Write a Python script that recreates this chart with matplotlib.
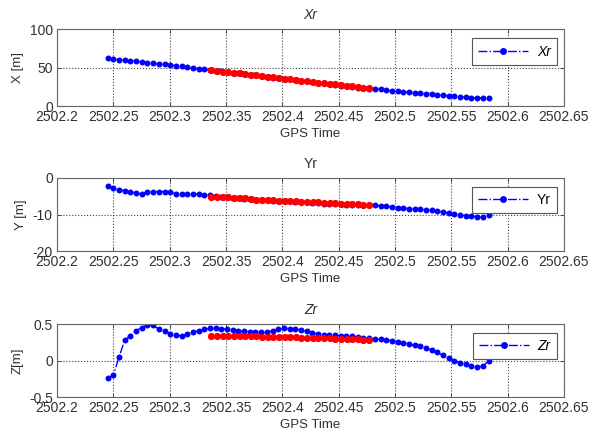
import numpy as np
import matplotlib
matplotlib.use("Agg")
import matplotlib.pyplot as plt

plt.rcParams['font.family'] = ['Liberation Sans', 'DejaVu Sans']

# GPS time span of the blue (full) and red (selected) segments
t_full = (2502.245, 2502.583)
t_sel = (2502.337, 2502.477)

x_full = [62, 61, 60, 59.5, 58.5, 58, 57, 56.5, 55.5, 54.5, 54, 53, 52.5, 51.5, 50.5, 49.5, 48.5,
          47.5, 47, 46, 45, 44, 43.5, 42.5, 41.5, 40.5, 40, 39, 38, 37, 36.5, 35.5, 34.5, 33.5,
          33, 32, 31, 30, 29.5, 28.5, 27.5, 26.5, 26, 25, 24, 23.5, 22.5, 22, 21.5, 20.5, 20,
          19.5, 18.5, 18, 17.5, 16.5, 16, 15.5, 14.5, 14, 13, 12.5, 12, 11.5, 11, 10.5, 10.5, 10]
x_sel = [46.5, 45.7, 44.8, 44.0, 43.1, 42.3, 41.5, 40.6, 39.8, 38.9, 38.1, 37.3, 36.4, 35.6, 34.7,
         33.9, 33.1, 32.2, 31.4, 30.5, 29.7, 28.9, 28.0, 27.2, 26.3, 25.5, 24.7, 23.8, 23.0]

y_full = [-2.3, -2.8, -3.2, -3.5, -3.8, -4.1, -4.4, -3.9, -3.8, -3.8, -3.7, -3.9, -4.3, -4.5, -4.4,
          -4.4, -4.5, -4.6, -4.6, -4.9, -5.1, -5.3, -5.4, -5.6, -5.7, -5.8, -5.9, -6.0, -6.1, -6.2,
          -6.3, -6.3, -6.4, -6.5, -6.6, -6.7, -6.8, -6.9, -7.0, -7.0, -7.1, -7.2, -7.3, -7.3, -7.4,
          -7.5, -7.4, -7.5, -7.6, -7.8, -8.0, -8.1, -8.2, -8.4, -8.5, -8.6, -8.8, -8.9, -9.0, -9.3,
          -9.6, -9.9, -10.1, -10.3, -10.4, -10.6, -10.8, -10.0]
y_sel = [-5.1, -5.2, -5.3, -5.3, -5.5, -5.6, -5.6, -5.8, -5.9, -5.9, -6.0, -6.1, -6.2, -6.2, -6.3,
         -6.4, -6.5, -6.5, -6.6, -6.7, -6.8, -6.8, -6.9, -7.0, -7.0, -7.1, -7.2, -7.3, -7.4]

z_full = [-0.24, -0.2, 0.05, 0.28, 0.34, 0.41, 0.45, 0.49, 0.48, 0.43, 0.4, 0.37, 0.35, 0.335,
          0.36, 0.39, 0.41, 0.43, 0.44, 0.44, 0.435, 0.43, 0.42, 0.41, 0.40, 0.395, 0.39, 0.385,
          0.39, 0.41, 0.43, 0.44, 0.435, 0.43, 0.42, 0.40, 0.38, 0.365, 0.355, 0.35, 0.345, 0.34,
          0.335, 0.33, 0.325, 0.315, 0.305, 0.295, 0.29, 0.285, 0.27, 0.26, 0.245, 0.23, 0.21,
          0.195, 0.17, 0.14, 0.11, 0.07, 0.03, 0.0, -0.03, -0.05, -0.07, -0.085, -0.08, -0.005]
z_sel = [0.33, 0.33, 0.33, 0.33, 0.33, 0.33, 0.33, 0.33, 0.33, 0.325, 0.325, 0.325, 0.325, 0.32,
         0.32, 0.32, 0.315, 0.315, 0.31, 0.31, 0.305, 0.305, 0.30, 0.30, 0.295, 0.29, 0.29,
         0.285, 0.28]

titles = ['Xr', 'Yr', 'Zr']
ylabels = ['X [m]', 'Y [m]', 'Z[m]']
ylims = [(0, 100), (-20, 0), (-0.5, 0.5)]
yticks = [[0, 50, 100], [-20, -10, 0], [-0.5, 0, 0.5]]
ytick_labels = [['0', '50', '100'], ['-20', '-10', '0'], ['-0.5', '0', '0.5']]
italic = [True, False, True]
xticks = [2502.2, 2502.25, 2502.3, 2502.35, 2502.4, 2502.45, 2502.5, 2502.55, 2502.6, 2502.65]
xtick_labels = ['2502.2', '2502.25', '2502.3', '2502.35', '2502.4', '2502.45',
                '2502.5', '2502.55', '2502.6', '2502.65']

fig = plt.figure(figsize=(5.92, 4.43), dpi=100)
positions = [[0.0963, 0.7607, 0.8564, 0.1738],
             [0.0963, 0.4334, 0.8564, 0.1648],
             [0.0963, 0.1038, 0.8564, 0.1648]]

series = [(x_full, x_sel), (y_full, y_sel), (z_full, z_sel)]

for i in range(3):
    ax = fig.add_axes(positions[i])
    full, sel = series[i]
    tf = np.linspace(t_full[0], t_full[1], len(full))
    ts = np.linspace(t_sel[0], t_sel[1], len(sel))
    style = 'italic' if italic[i] else 'normal'

    ax.plot(tf, full, '-.', color='#0000ff', marker='o', markersize=4.3,
            markeredgewidth=0, linewidth=1.0, label=titles[i])
    ax.plot(ts, sel, '-.', color='#ff0000', marker='o', markersize=5.2,
            markeredgewidth=0, linewidth=1.0)

    ax.set_xlim(2502.2, 2502.65)
    ax.set_ylim(*ylims[i])
    ax.set_xticks(xticks)
    ax.set_xticklabels(xtick_labels)
    ax.set_yticks(yticks[i])
    ax.set_yticklabels(ytick_labels[i])
    ax.tick_params(direction='in', top=True, right=True, length=3, width=0.6,
                   labelsize=10, pad=3, colors='#303030')
    ax.grid(True, linestyle=':', color='#444444', linewidth=0.8)
    for sp in ax.spines.values():
        sp.set_color('#666666')
        sp.set_linewidth(0.8)

    ax.set_xlabel('GPS Time', fontsize=9.5, color='#303030', labelpad=3)
    ax.set_ylabel(ylabels[i], fontsize=9.5, color='#303030', labelpad=4)
    ax.set_title(titles[i], fontsize=10, color='#303030', fontstyle=style, pad=7)

    leg = ax.legend(loc='upper right', bbox_to_anchor=(0.986, 0.88),
                    handlelength=3.6, borderpad=0.45, handletextpad=0.6,
                    borderaxespad=0, fancybox=False, framealpha=1,
                    prop={'style': style, 'size': 10})
    leg.get_frame().set_edgecolor('#555555')
    leg.get_frame().set_linewidth(0.8)
    leg.get_lines()[0].set_markersize(5)

fig.savefig('out.png', dpi=100)
